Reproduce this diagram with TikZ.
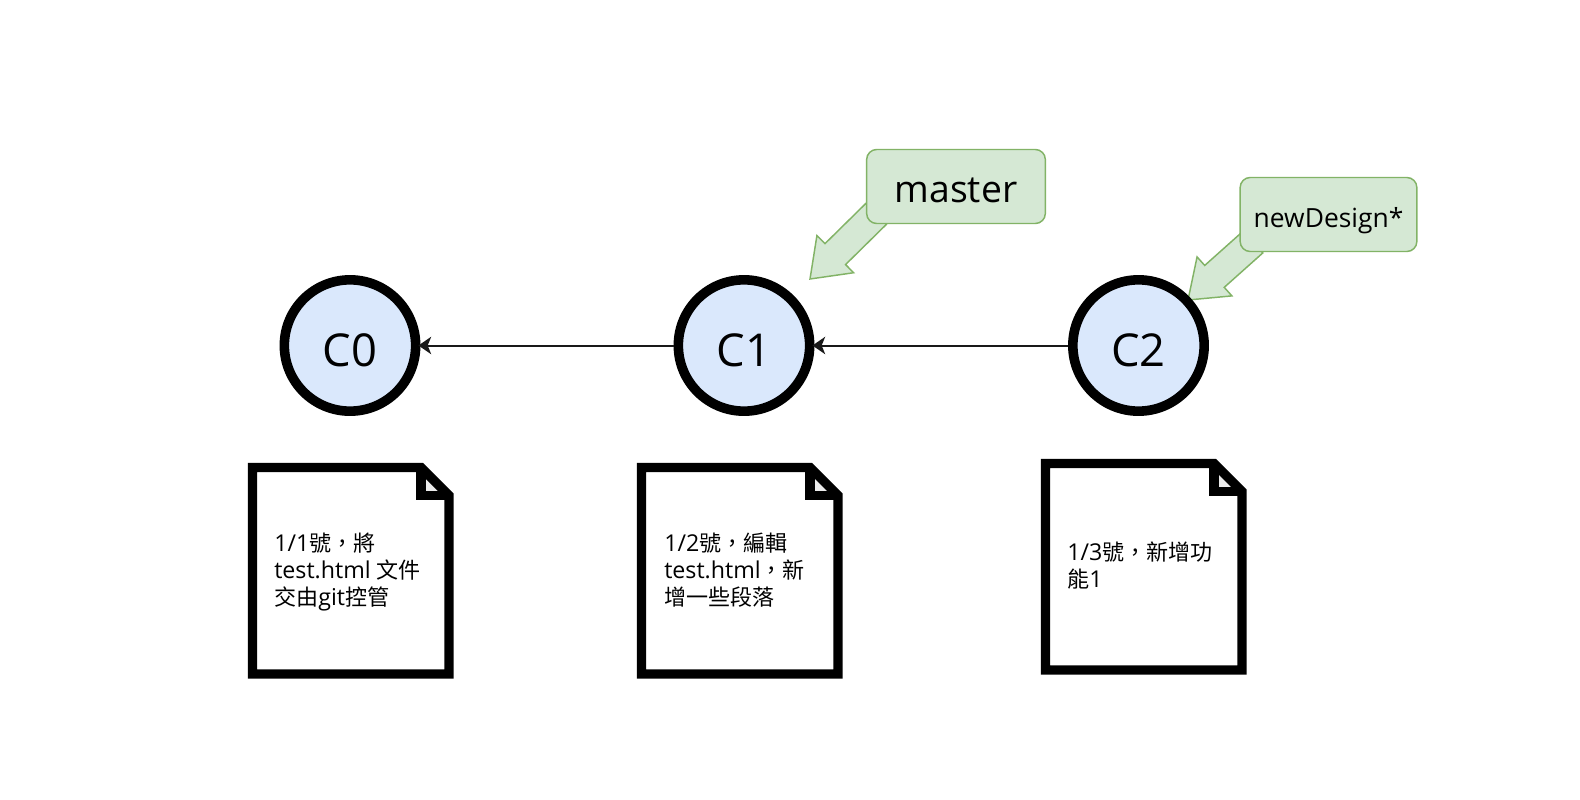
\documentclass[tikz,border=0pt]{standalone}
\usepackage{fontspec}
\setmainfont{Open Sans}
\newfontfamily\cjk[Scale=0.95]{Noto Sans CJK TC}
\usetikzlibrary{calc,arrows.meta}
\definecolor{bluefill}{HTML}{DAE8FC}
\definecolor{greenfill}{HTML}{D5E8D4}
\definecolor{greenline}{HTML}{82B366}
\definecolor{foldfill}{HTML}{EBEBEB}
\tikzset{
  commit/.style={circle,draw=black,line width=7.2pt,fill=bluefill,minimum size=98.5pt,inner sep=0pt,text height=30.8pt,text depth=0pt,font=\fontsize{34}{36}\selectfont},
  link/.style={draw=black!90,line width=1.5pt,shorten >=-1.5pt,-{Stealth[length=9.5pt,width=13pt,inset=2.6pt]}},
  branch/.style={draw=greenline,line width=1.1pt,fill=greenfill,rounded corners=7.5pt,minimum height=55.5pt,inner sep=0pt,text depth=0pt},
  flexa/.style={draw=greenline,line width=1.1pt,fill=greenfill,line join=miter},
  sheetline/.style={draw=black,line width=6.9pt,line join=miter},
  memo/.style={anchor=north west,align=left,inner sep=0pt,font=\fontsize{17.4}{20.25}\selectfont}
}
% block arrow from #1 to #2
\newcommand{\flexarrow}[2]{%
  \coordinate (n) at ($(#2)!26.6pt!(#1)$);
  \draw[flexa] ($(#1)!11pt!90:(#2)$) -- ($(n)!11pt!90:(#2)$) -- ($(n)!19.6pt!90:(#2)$) -- (#2)
    -- ($(n)!19.6pt!-90:(#2)$) -- ($(n)!11pt!-90:(#2)$) -- ($(#1)!11pt!-90:(#2)$) -- cycle;
}
% note sheet with folded corner: #1,#2 = top left of stroke centre, #3 = name
\newcommand{\sheetat}[3]{%
  \coordinate (#3) at (#1,#2);
  \fill[white] (#3) -- ++(168.5,0) -- ++(28,28) -- ++(0,178.5) -- ++(-196.5,0) -- cycle;
  \fill[foldfill] ($(#3)+(168.5,0)$) -- ++(0,28) -- ++(28,0) -- cycle;
  \draw[sheetline] (#3) -- ++(168.5,0) -- ++(28,28) -- ++(0,178.5) -- ++(-196.5,0) -- cycle;
  \draw[sheetline] ($(#3)+(168.5,0)$) -- ++(0,28) -- ++(28,0);
}
\begin{document}
\begin{tikzpicture}[x=0.75pt,y=-0.75pt]
\useasboundingbox (0,0) rectangle (1580,799);
\fill[white] (0,0) rectangle (1580,799);

\coordinate (mastertail) at (876,214);
\coordinate (mastertip) at (810,279);
\coordinate (designtail) at (1253,242);
\coordinate (designtip) at (1188,300);
\flexarrow{mastertail}{mastertip}
\flexarrow{designtail}{designtip}

\node[commit] (c0) at (350,345.5) {C0};
\node[commit] (c1) at (744,345.5) {C1};
\node[commit] (c2) at (1138.5,345.5) {C2};
\draw[link] (c1) -- (c0);
\draw[link] (c2) -- (c1);

\node[branch,minimum width=134pt,text height=24pt,font=\fontsize{28}{30}\selectfont] (master) at (956,186.5) {master};
\node[branch,minimum width=132.5pt,text height=19pt,font=\fontsize{19.8}{22}\selectfont] (design) at (1328.5,214.5) {newDesign*};

\sheetat{252.5}{467.5}{doca}
\sheetat{641.5}{467.5}{docb}
\sheetat{1045.5}{463.5}{docc}

\node[memo] (ta) at (274,533) {1/1{\cjk 號，將}\\test.html {\cjk 文件}\\{\cjk 交由}git{\cjk 控管}};
\node[memo] (tb) at (664,533) {1/2{\cjk 號，編輯}\\test.html{\cjk ，新}\\{\cjk 增一些段落}};
\node[memo] (tc) at (1067,542) {1/3{\cjk 號，新增功}\\{\cjk 能}1};
\end{tikzpicture}
\end{document}
